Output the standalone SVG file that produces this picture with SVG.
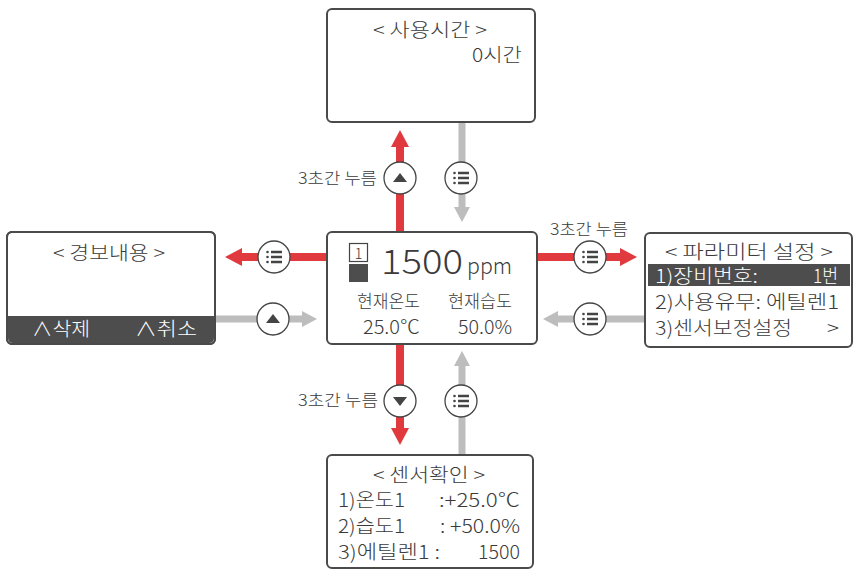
<svg xmlns="http://www.w3.org/2000/svg" width="854" height="573" viewBox="0 0 854 573">
<style>
.box{fill:#fff;stroke:#4a4a4a;stroke-width:2}
.t{font-family:"Noto Sans CJK KR","Noto Sans",sans-serif;fill:#3a3a3a;font-size:19px;font-weight:300}
.w{fill:#fff}
.lab{font-size:16px}
.red{stroke:#e03a3e;stroke-width:8;fill:none}
.grey{stroke:#bdbdbd;stroke-width:7;fill:none}
.btn{fill:#fff;stroke:#444;stroke-width:1.3}
.ic{fill:#444}
.icl{stroke:#444;stroke-width:2.4}
</style>
<defs>
<marker id="hr" markerUnits="userSpaceOnUse" markerWidth="20" markerHeight="20" refX="0" refY="10" orient="auto" viewBox="0 0 20 20"><path d="M0,1 L17,10 L0,19 Z" fill="#e03a3e"/></marker>
<marker id="hg" markerUnits="userSpaceOnUse" markerWidth="20" markerHeight="20" refX="0" refY="10" orient="auto" viewBox="0 0 20 20"><path d="M0,2 L15,10 L0,18 Z" fill="#bdbdbd"/></marker>
<g id="list"><circle r="16" class="btn"/><circle cx="-6.5" cy="-5" r="1.3" class="ic"/><circle cx="-6.5" cy="0" r="1.3" class="ic"/><circle cx="-6.5" cy="5" r="1.3" class="ic"/><path d="M-3,-5 H8 M-3,0 H8 M-3,5 H8" class="icl"/></g>
<g id="up"><circle r="16" class="btn"/><path d="M-7,4 L7,4 L0,-5 Z" class="ic"/></g>
<g id="down"><circle r="16" class="btn"/><path d="M-7,-4 L7,-4 L0,5 Z" class="ic"/></g>
</defs>

<g id="connectors">
<line x1="400" y1="232" x2="400" y2="147" class="red" marker-end="url(#hr)"/>
<line x1="462" y1="122" x2="462" y2="207" class="grey" marker-end="url(#hg)"/>
<line x1="327" y1="257" x2="242" y2="257" class="red" marker-end="url(#hr)"/>
<line x1="215" y1="319" x2="302" y2="319" class="grey" marker-end="url(#hg)"/>
<line x1="537" y1="257" x2="620" y2="257" class="red" marker-end="url(#hr)"/>
<line x1="645" y1="319" x2="558" y2="319" class="grey" marker-end="url(#hg)"/>
<line x1="400" y1="344" x2="400" y2="428" class="red" marker-end="url(#hr)"/>
<line x1="462" y1="455" x2="462" y2="366" class="grey" marker-end="url(#hg)"/>
<use href="#up" x="400" y="178"/>
<use href="#list" x="461" y="178"/>
<use href="#list" x="274" y="257"/>
<use href="#up" x="273" y="319"/>
<use href="#list" x="590" y="257"/>
<use href="#list" x="590" y="319"/>
<use href="#down" x="400" y="401"/>
<use href="#list" x="461" y="401"/>
<text class="t lab" x="298" y="184" textLength="79" lengthAdjust="spacingAndGlyphs">3초간 누름</text>
<text class="t lab" x="550" y="235" textLength="78" lengthAdjust="spacingAndGlyphs">3초간 누름</text>
<text class="t lab" x="298" y="406" textLength="80" lengthAdjust="spacingAndGlyphs">3초간 누름</text>
</g>

<g id="usage-time">
<rect x="327" y="9" width="208" height="113" rx="5" class="box"/>
<text class="t" x="373" y="37" textLength="114" lengthAdjust="spacingAndGlyphs">&lt; 사용시간 &gt;</text>
<text class="t" x="472" y="62" textLength="50" lengthAdjust="spacingAndGlyphs">0시간</text>
</g>

<g id="main">
<rect x="327" y="232" width="210" height="112" rx="5" class="box"/>
<rect x="349.5" y="243.5" width="18" height="18" fill="#fff" stroke="#444" stroke-width="1.2"/>
<text class="t" x="358.5" y="259" style="font-size:15px" text-anchor="middle">1</text>
<rect x="349" y="264" width="19" height="18" fill="#4d4d4d"/>
<text class="t" x="381" y="274" style="font-size:34px" textLength="82" lengthAdjust="spacingAndGlyphs">1500</text>
<text class="t" x="467" y="274" style="font-size:22px" textLength="45" lengthAdjust="spacingAndGlyphs">ppm</text>
<text class="t" x="357" y="308" style="font-size:18px" textLength="63" lengthAdjust="spacingAndGlyphs">현재온도</text>
<text class="t" x="448" y="308" style="font-size:18px" textLength="64" lengthAdjust="spacingAndGlyphs">현재습도</text>
<text class="t" x="363" y="334" style="font-size:19px" textLength="57" lengthAdjust="spacingAndGlyphs">25.0℃</text>
<text class="t" x="458" y="334" style="font-size:19px" textLength="54" lengthAdjust="spacingAndGlyphs">50.0%</text>
</g>

<g id="alarm">
<rect x="7" y="232" width="208" height="112" rx="5" class="box"/>
<path d="M8,316 H214 V338 Q214,343 209,343 H13 Q8,343 8,338 Z" fill="#4d4d4d"/>
<rect x="7" y="232" width="208" height="112" rx="5" fill="none" stroke="#4a4a4a" stroke-width="2"/>
<text class="t" x="53" y="260" textLength="112" lengthAdjust="spacingAndGlyphs">&lt; 경보내용 &gt;</text>
<text class="t w" x="32" y="336" textLength="58" lengthAdjust="spacingAndGlyphs">∧삭제</text>
<text class="t w" x="135" y="336" textLength="62" lengthAdjust="spacingAndGlyphs">∧취소</text>
</g>

<g id="parameter">
<rect x="645" y="233" width="207" height="114" rx="5" class="box"/>
<rect x="648" y="264" width="202" height="22" fill="#4d4d4d"/>
<text class="t" x="665" y="259" textLength="168" lengthAdjust="spacingAndGlyphs">&lt; 파라미터 설정 &gt;</text>
<text class="t w" x="655" y="283" textLength="103" lengthAdjust="spacingAndGlyphs">1)장비번호:</text>
<text class="t w" x="813" y="283" textLength="25" lengthAdjust="spacingAndGlyphs">1번</text>
<text class="t" x="655" y="309" textLength="184" lengthAdjust="spacingAndGlyphs">2)사용유무: 에틸렌1</text>
<text class="t" x="655" y="335" textLength="137" lengthAdjust="spacingAndGlyphs">3)센서보정설정</text>
<text class="t" x="827" y="335" textLength="12" lengthAdjust="spacingAndGlyphs">&gt;</text>
</g>

<g id="sensor">
<rect x="327" y="455" width="206" height="113" rx="5" class="box"/>
<text class="t" x="373" y="482" textLength="112" lengthAdjust="spacingAndGlyphs">&lt; 센서확인 &gt;</text>
<text class="t" x="338" y="507" textLength="67" lengthAdjust="spacingAndGlyphs">1)온도1</text>
<text class="t" x="439" y="507" textLength="81" lengthAdjust="spacingAndGlyphs">:+25.0℃</text>
<text class="t" x="338" y="533" textLength="67" lengthAdjust="spacingAndGlyphs">2)습도1</text>
<text class="t" x="440" y="533" textLength="80" lengthAdjust="spacingAndGlyphs">: +50.0%</text>
<text class="t" x="338" y="559" textLength="102" lengthAdjust="spacingAndGlyphs">3)에틸렌1 :</text>
<text class="t" x="478" y="559" textLength="42" lengthAdjust="spacingAndGlyphs">1500</text>
</g>
</svg>
